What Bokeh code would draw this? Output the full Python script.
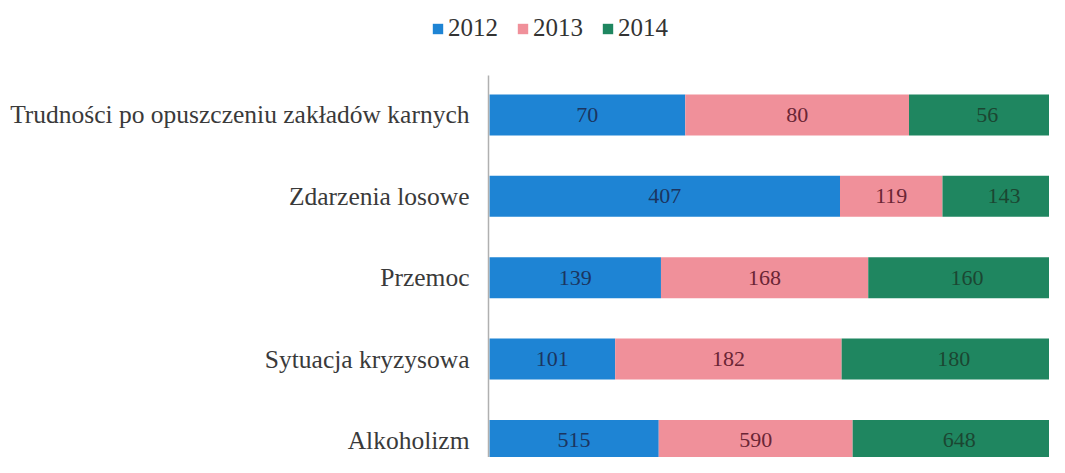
import numpy as np
from bokeh.plotting import figure
from bokeh.layouts import column, row
from bokeh.models import ColumnDataSource, Range1d, FixedTicker, Legend, LegendItem
from bokeh.core.properties import value
from bokeh.embed import file_html
from bokeh.resources import INLINE

# Data (bottom to top)
categories = ["Alkoholizm", "Sytuacja kryzysowa", "Przemoc", "Zdarzenia losowe",
              "Trudności po opuszczeniu zakładów karnych"]
years = ["2012", "2013", "2014"]
v2012 = [515, 101, 139, 407, 70]
v2013 = [590, 182, 168, 119, 80]
v2014 = [648, 180, 160, 143, 56]

colors = ["#1e84d4", "#f0909a", "#1f8660"]
text_colors = ["#1b3560", "#6a2535", "#1b4632"]

series = [np.array(v2012, float), np.array(v2013, float), np.array(v2014, float)]
totals = series[0] + series[1] + series[2]
ypos = np.arange(len(categories))

FONT = "Liberation Serif"
W = 1049

p = figure(width=W, height=382, output_backend="svg", toolbar_location=None,
           x_range=Range1d(-0.0017, 0.972), y_range=Range1d(-0.209, 4.485),
           min_border_left=488, min_border_top=0, min_border_right=0, min_border_bottom=0)
p.outline_line_color = None
p.xgrid.visible = False
p.ygrid.visible = False
p.xaxis.visible = False

sources = []
left = np.zeros(len(categories))
for i, (yr, vals) in enumerate(zip(years, series)):
    share = vals / totals
    right = left + share
    src = ColumnDataSource(dict(y=ypos, left=left, right=right,
                                mid=(left + right) / 2,
                                lab=[str(int(v)) for v in vals]))
    sources.append(src)
    p.hbar(y="y", left="left", right="right", height=0.504, source=src,
           fill_color=colors[i], line_color=None)
    p.text(x="mid", y="y", text="lab", source=src, text_align="center",
           text_baseline="middle", text_font=value(FONT), text_font_size="22px",
           text_color=text_colors[i])
    left = right

yax = p.yaxis[0]
yax.ticker = FixedTicker(ticks=list(ypos))
yax.major_label_overrides = {int(k): c for k, c in zip(ypos, categories)}
yax.major_tick_line_color = None
yax.minor_tick_line_color = None
yax.axis_line_color = "#b0b0b0"
yax.axis_line_width = 1.5
yax.major_label_text_font = FONT
yax.major_label_text_font_size = "25.5px"
yax.major_label_text_color = "#3a3a3a"
yax.major_label_standoff = 13

# Legend strip on top (its ranges show none of the bars; only the legend is seen)
top = figure(width=W, height=75, output_backend="svg", toolbar_location=None,
             x_axis_type=None, y_axis_type=None,
             x_range=Range1d(0, 1), y_range=Range1d(100, 101),
             min_border_left=0, min_border_top=0, min_border_right=0, min_border_bottom=0)
top.outline_line_color = None
top.xgrid.visible = False
top.ygrid.visible = False
items = []
for i, yr in enumerate(years):
    r = top.hbar(y="y", left="left", right="right", height=0.504, source=sources[i],
                 fill_color=colors[i], line_color=None)
    items.append(LegendItem(label=yr, renderers=[r]))
lg = Legend(items=items, orientation="horizontal", location=(431, 33),
            padding=0, margin=0, border_line_color=None, background_fill_alpha=0,
            glyph_width=13, glyph_height=13, label_standoff=4, spacing=18,
            label_height=25, label_text_font=FONT, label_text_font_size="25px",
            label_text_color="#333333", label_text_baseline="middle")
top.add_layout(lg, "center")

layout = column(row(top), p, spacing=0)
open("out.html", "w").write(file_html(layout, INLINE))
